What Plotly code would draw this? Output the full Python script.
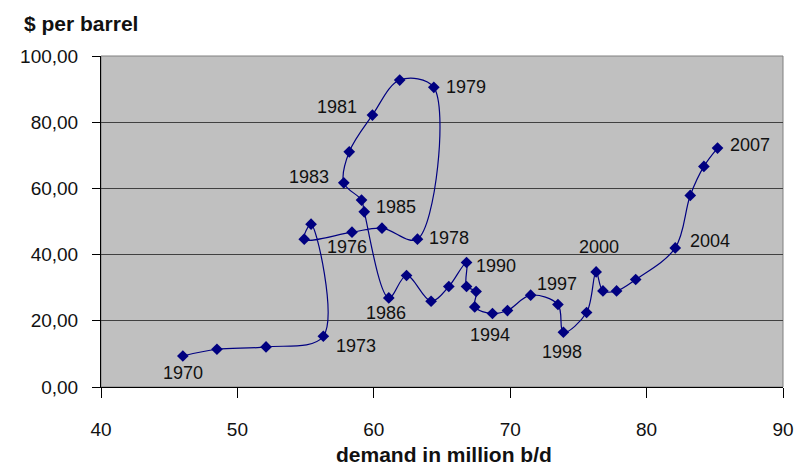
import plotly.graph_objects as go

# ---- data ----
years = list(range(1970, 2008))
demand = [46.0, 48.5, 52.1, 56.3, 55.4, 54.9, 58.4, 60.6, 63.2, 64.4,
          61.9, 59.9, 58.2, 57.8, 59.1, 59.3, 61.1, 62.4, 64.2, 65.5,
          66.8, 66.8, 67.5, 67.4, 68.7, 69.8, 71.5, 73.5, 73.9, 75.6,
          76.3, 76.8, 77.8, 79.2, 82.1, 83.2, 84.2, 85.2]
price = [9.37, 11.40, 12.10, 15.33, 49.20, 44.66, 46.78, 47.99, 44.66, 90.53,
         92.74, 82.16, 71.06, 61.69, 56.46, 52.92, 26.91, 33.69, 25.91, 30.36,
         37.62, 30.36, 28.85, 24.19, 22.20, 23.10, 27.73, 24.92, 16.54, 22.50,
         34.77, 29.03, 29.03, 32.48, 42.03, 57.88, 66.65, 72.18]
labelled_years = [1970, 1973, 1976, 1978, 1979, 1981, 1983, 1985, 1986,
                  1990, 1994, 1997, 1998, 2000, 2004, 2007]
x_ticks = [40, 50, 60, 70, 80, 90]
y_ticks = [0, 20, 40, 60, 80, 100]

# ---- label placement (style, not data): anchor, xshift, yshift(px, up +) ----
label_pos = {
    1970: ("center", 0, -17),
    1973: ("left", 11, -10),
    1976: ("center", -5, -15),
    1978: ("left", 10, 1),
    1979: ("left", 10, 0),
    1981: ("right", -13, 8),
    1983: ("right", -13, 6),
    1985: ("left", 10, 5),
    1986: ("center", -3, -15),
    1990: ("left", 7, -4),
    1994: ("center", -2, -21),
    1997: ("center", -1, 21),
    1998: ("center", -1, -20),
    2000: ("center", 3, 25),
    2004: ("left", 13, 7),
    2007: ("left", 10, 3),
}

NAVY = "#000080"
FONT = "Liberation Sans, Arial, sans-serif"

fig = go.Figure()
fig.add_trace(go.Scatter(
    x=demand, y=price, mode="lines+markers",
    line=dict(color=NAVY, width=1.2, shape="spline", smoothing=1.0),
    marker=dict(symbol="diamond", size=9, color=NAVY),
    hoverinfo="skip", showlegend=False,
))

annotations = []
for yr in labelled_years:
    i = years.index(yr)
    anchor, dx, dy = label_pos[yr]
    annotations.append(dict(
        x=demand[i], y=price[i], xref="x", yref="y", text=str(yr),
        showarrow=False, xanchor=anchor, yanchor="middle",
        xshift=dx, yshift=dy, font=dict(family=FONT, size=18, color="#111111"),
    ))

annotations.append(dict(
    x=-0.116, y=1.097, xref="paper", yref="paper", text="<b>$ per barrel</b>",
    showarrow=False, xanchor="left", yanchor="middle",
    font=dict(family=FONT, size=21, color="#111111"),
))
annotations.append(dict(
    x=0.503, y=-0.205, xref="paper", yref="paper",
    text="<b>demand in million b/d</b>",
    showarrow=False, xanchor="center", yanchor="middle",
    font=dict(family=FONT, size=21, color="#111111"),
))

# the page body adds an 8px margin, so the figure is 8px smaller on each axis
fig.update_layout(
    width=798, height=460,
    margin=dict(l=86, r=14, t=48, b=81),
    paper_bgcolor="white", plot_bgcolor="#C0C0C0",
    separators=",.",
    annotations=annotations,
    shapes=[dict(type="rect", xref="paper", yref="paper", x0=0, y0=0, x1=1, y1=1,
                 line=dict(color="#808080", width=1), layer="below")],
    xaxis=dict(range=[40, 90], tickvals=x_ticks, showgrid=False, zeroline=False,
               showline=True, linecolor="#000000", linewidth=1,
               ticks="outside", ticklen=10, tickcolor="#000000",
               ticklabelstandoff=15,
               tickfont=dict(family=FONT, size=19, color="#111111")),
    yaxis=dict(range=[0, 100], tickvals=y_ticks, tickformat=".2f",
               showgrid=True, gridcolor="#404040", gridwidth=1, zeroline=False,
               showline=True, linecolor="#000000", linewidth=1,
               ticks="outside", ticklen=8, tickcolor="#000000",
               ticklabelstandoff=10,
               tickfont=dict(family=FONT, size=19, color="#111111")),
)

fig.write_html("out.html")
